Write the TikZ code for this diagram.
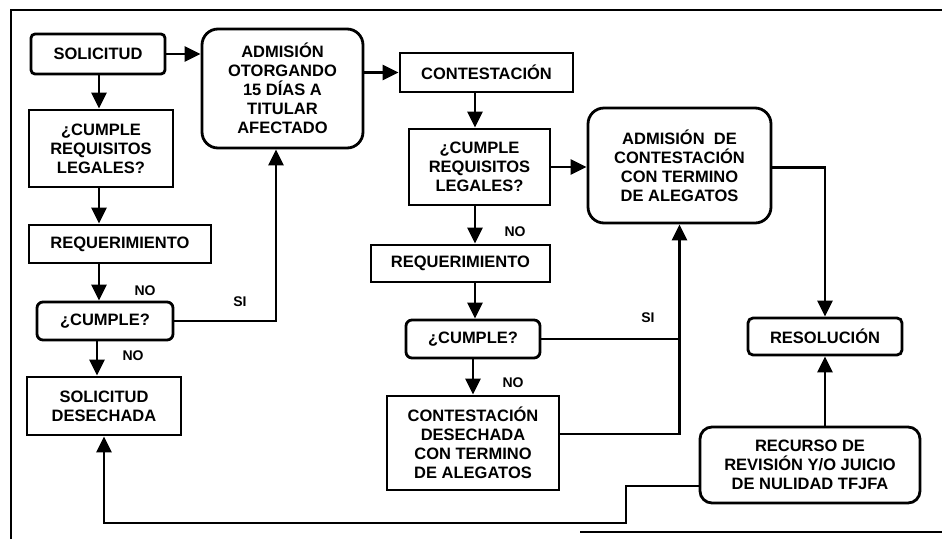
\documentclass[tikz,border=0pt]{standalone}
\usepackage{fontspec}
\setmainfont{Liberation Sans}
\usetikzlibrary{arrows.meta,calc}
\begin{document}
\begin{tikzpicture}[x=1pt,y=-1pt,
  box/.style={draw,line width=2.8pt,inner sep=0pt,align=center,
    font=\bfseries\fontsize{16.5}{19}\selectfont},
  rbox/.style={box,rounded corners=#1},
  lbl/.style={font=\bfseries\fontsize{14}{16}\selectfont,inner sep=0pt},
  arr/.style={line width=2.5pt,-{Triangle[length=16pt,width=15pt]}},
  ln/.style={line width=2.5pt},
  frm/.style={line width=2.6pt}]
\useasboundingbox (0,0) rectangle (942,539);
% frame
\draw[frm] (11,539) -- (11,10) -- (942,10);
\draw[line width=1.4pt] (580,532) -- (942,532);
% nodes
\node[rbox=4pt,minimum width=134pt,minimum height=40pt] (sol) at (98,54) {SOLICITUD};
\node[rbox=16pt,minimum width=161pt,minimum height=119pt] (adm1) at (282.5,88.5) {ADMISIÓN\\OTORGANDO\\15 DÍAS A\\TITULAR\\AFECTADO};
\node[box,minimum width=173pt,minimum height=39pt] (cont) at (486.5,72.5) {CONTESTACIÓN};
\node[box,minimum width=144pt,minimum height=77pt] (rq1) at (101,148.5) {¿CUMPLE\\REQUISITOS\\LEGALES?};
\node[box,minimum width=182pt,minimum height=38pt] (req1) at (120,244) {REQUERIMIENTO};
\node[rbox=6pt,minimum width=136pt,minimum height=38pt] (cum1) at (105,321) {¿CUMPLE?};
\node[box,minimum width=154pt,minimum height=58pt] (des1) at (104,406) {SOLICITUD\\DESECHADA};
\node[box,minimum width=141pt,minimum height=76pt] (rq2) at (479.5,167) {¿CUMPLE\\REQUISITOS\\LEGALES?};
\node[box,minimum width=179pt,minimum height=37pt] (req2) at (460.5,263.5) {REQUERIMIENTO};
\node[rbox=6pt,minimum width=134pt,minimum height=38pt] (cum2) at (473,339) {¿CUMPLE?};
\node[box,minimum width=172pt,minimum height=94pt] (des2) at (473,443) {CONTESTACIÓN\\DESECHADA\\CON TERMINO\\DE ALEGATOS};
\node[rbox=16pt,minimum width=183pt,minimum height=115pt] (adm2) at (679.5,165.5) {ADMISIÓN\ \ DE\\CONTESTACIÓN\\CON TERMINO\\DE ALEGATOS};
\node[rbox=5pt,minimum width=154pt,minimum height=37pt] (res) at (825,336.5) {RESOLUCIÓN};
\node[rbox=12pt,minimum width=220pt,minimum height=76pt] (rec) at (810,465) {RECURSO DE\\REVISIÓN Y/O JUICIO\\DE NULIDAD TFJFA};
% labels
\node[lbl] (no1) at (145,291) {NO};
\node[lbl] (no2) at (133,356) {NO};
\node[lbl] (si1) at (240,302) {SI};
\node[lbl] (no3) at (515,232) {NO};
\node[lbl] (si2) at (648,318) {SI};
\node[lbl] (no4) at (513,383) {NO};
% helper coordinates
\coordinate (c1) at (99,0);
\coordinate (c2) at (97,0);
\coordinate (c3) at (276,0);
\coordinate (c4) at (475,0);
\coordinate (k1) at (626,523);
% connectors
\draw[arr] (sol.east) -- (sol.east -| adm1.west);
\draw[arr] (cont.west -| adm1.east) -- (cont.west);
\draw[arr] (c1 |- sol.south) -- (c1 |- rq1.north);
\draw[arr] (c1 |- rq1.south) -- (c1 |- req1.north);
\draw[arr] (c1 |- req1.south) -- (c1 |- cum1.north);
\draw[arr] (c2 |- cum1.south) -- (c2 |- des1.north);
\draw[arr] (cum1.east) -| (c3 |- adm1.south);
\draw[arr] (c4 |- cont.south) -- (c4 |- rq2.north);
\draw[arr] (c4 |- rq2.south) -- (c4 |- req2.north);
\draw[arr] (c4 |- req2.south) -- (c4 |- cum2.north);
\draw[arr] (cum2.south) -- (cum2.south |- des2.north);
\draw[arr] (rq2.east) -- (rq2.east -| adm2.west);
\draw[arr] ([yshift=9pt]des2.east) -| (adm2.south);
\draw[ln] (cum2.east) -- (cum2.east -| adm2.south);
\draw[arr] ([yshift=-2pt]adm2.east) -| (res.north);
\draw[arr] (res.south |- rec.north) -- (res.south);
\draw[arr] ([yshift=-21pt]rec.west) -| (k1) -| (des1.south);
\end{tikzpicture}
\end{document}
